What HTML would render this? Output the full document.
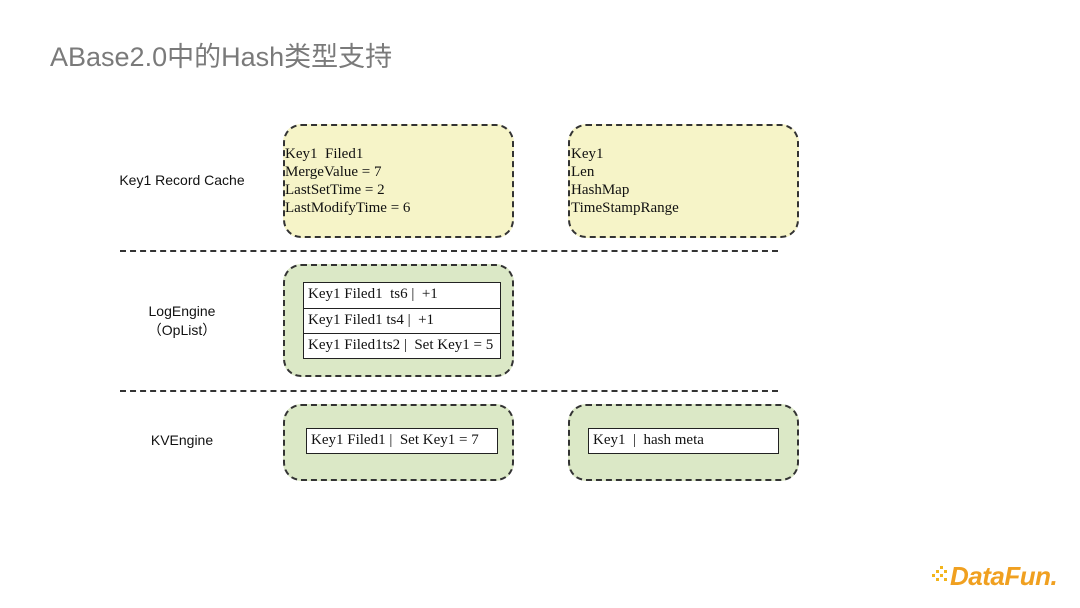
<!DOCTYPE html>
<html><head><meta charset="utf-8"><style>
body{margin:0;width:1080px;height:608px;background:#fff;position:relative;overflow:hidden;font-family:"Liberation Serif",serif}
.a{position:absolute}
.box{position:absolute;border:2px dashed #333;border-radius:18px;box-sizing:border-box}
.y{background:#f6f4c8}
.g{background:#dbe8c6}
.lbl{position:absolute;font-family:"Liberation Sans",sans-serif;font-size:14px;color:#111;text-align:center;width:160px;left:102px;line-height:19px}
.t{font-size:15px;color:#111;line-height:18px;white-space:nowrap}
.hl{position:absolute;left:120px;width:658px;border-top:2px dashed #333;height:0}
.cell{position:absolute;background:#fff;border:1.5px solid #222;box-sizing:border-box;font-size:15px;line-height:23px;padding-left:4px;white-space:nowrap;color:#111}
</style></head><body>
<div class="a" style="left:50px;top:35px;font-family:'Liberation Sans','Noto Sans CJK SC',sans-serif;font-size:27px;color:#7a7a7a">ABase2.0中的Hash类型支持</div>

<div class="lbl" style="top:171px">Key1 Record Cache</div>
<div class="lbl" style="top:302px">LogEngine<br>（OpList）</div>
<div class="lbl" style="top:431px">KVEngine</div>

<div class="box y" style="left:283px;top:124px;width:231px;height:114px"></div>
<div class="a t" style="left:285px;top:145px">Key1&nbsp; Filed1<br>MergeValue = 7<br>LastSetTime = 2<br>LastModifyTime = 6</div>
<div class="box y" style="left:568px;top:124px;width:231px;height:114px"></div>
<div class="a t" style="left:571px;top:145px">Key1<br>Len<br>HashMap<br>TimeStampRange</div>

<div class="hl" style="top:250px"></div>
<div class="hl" style="top:390px"></div>

<div class="box g" style="left:283px;top:264px;width:231px;height:113px"></div>
<div class="cell" style="left:303px;top:282px;width:198px;height:27px">Key1 Filed1&nbsp; ts6 |&nbsp; +1</div>
<div class="cell" style="left:303px;top:308px;width:198px;height:26px">Key1 Filed1 ts4 |&nbsp; +1</div>
<div class="cell" style="left:303px;top:333px;width:198px;height:26px">Key1 Filed1ts2 |&nbsp; Set Key1 = 5</div>

<div class="box g" style="left:283px;top:404px;width:231px;height:77px"></div>
<div class="cell" style="left:306px;top:428px;width:192px;height:26px">Key1 Filed1 |&nbsp; Set Key1 = 7</div>
<div class="box g" style="left:568px;top:404px;width:231px;height:77px"></div>
<div class="cell" style="left:588px;top:428px;width:191px;height:26px">Key1&nbsp; |&nbsp; hash meta</div>

<div class="a" style="left:932px;top:566px;width:18px;height:20px">
<svg width="20" height="20"><g fill="#f3b51c"><rect x="0" y="8" width="3" height="3"/><rect x="4" y="4" width="3" height="3"/><rect x="4" y="12" width="3" height="3"/><rect x="8" y="8" width="3" height="3"/><rect x="8" y="0" width="3" height="3"/><rect x="12" y="4" width="3" height="3"/><rect x="12" y="12" width="3" height="3"/></g></svg></div>
<div class="a" style="left:950px;top:561px;font-family:'Liberation Sans',sans-serif;font-weight:bold;font-style:italic;font-size:26px;color:#f0a020;letter-spacing:-0.5px">DataFun.</div>
</body></html>
